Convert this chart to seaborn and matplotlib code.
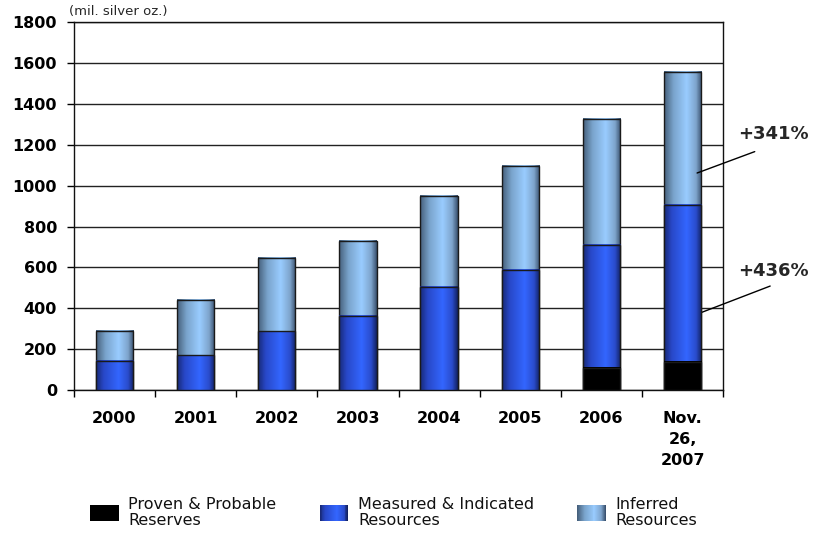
import numpy as np
import pandas as pd
import seaborn as sns
import matplotlib
matplotlib.use("Agg")
import matplotlib.pyplot as plt
from matplotlib.colors import to_rgb
from matplotlib.patches import Rectangle, Patch
from matplotlib.legend_handler import HandlerBase

# Silver reserves & resources by year (mil. silver oz.)
years = ["2000", "2001", "2002", "2003", "2004", "2005", "2006", "Nov.\n26,\n2007"]
proven = [0, 0, 0, 0, 0, 0, 108, 137]
measured = [143, 170, 287, 362, 505, 587, 602, 768]
inferred = [147, 272, 359, 367, 445, 509, 615, 651]
labels = ["Proven & Probable\nReserves", "Measured & Indicated\nResources", "Inferred\nResources"]

df = pd.DataFrame({"year": years, "proven": proven, "measured": measured, "inferred": inferred})
df["lvl1"] = df["proven"]
df["lvl2"] = df["lvl1"] + df["measured"]
df["lvl3"] = df["lvl2"] + df["inferred"]

# gradient stops (position, colour) -> cylinder look
black_stops = [(0, "#000000"), (1, "#000000")]
blue_stops = [(0, "#182a78"), (0.2, "#2848c8"), (0.6, "#3366ff"), (0.85, "#2a4ccc"), (1, "#122262")]
light_stops = [(0, "#46607c"), (0.25, "#7aa4cc"), (0.6, "#99ccff"), (0.85, "#7ea4cc"), (1, "#3a5270")]


def grad_colors(stops, n):
    pos = [s[0] for s in stops]
    rgb = np.array([to_rgb(s[1]) for s in stops])
    t = np.linspace(0, 1, n)
    return np.stack([np.interp(t, pos, rgb[:, k]) for k in range(3)], axis=1)


class GradHandler(HandlerBase):
    def __init__(self, stops):
        super().__init__()
        self.stops = stops

    def create_artists(self, legend, orig_handle, xdescent, ydescent, width, height, fontsize, trans):
        n = 30
        cols = grad_colors(self.stops, n)
        arts = []
        for i in range(n):
            arts.append(Rectangle((-xdescent + width * i / n, -ydescent), width / n * 1.1, height,
                                  facecolor=cols[i], edgecolor="none", transform=trans))
        return arts


fig, ax = plt.subplots(figsize=(8.2, 5.36), dpi=100)
fig.subplots_adjust(left=0.09, right=0.882, bottom=0.272, top=0.959)
sns.set_style("white")

layers = [("lvl3", light_stops), ("lvl2", blue_stops), ("lvl1", black_stops)]
for k, (col, stops) in enumerate(layers):
    n_before = len(ax.patches)
    sns.barplot(data=df, x="year", y=col, order=years, color=stops[2 if len(stops) > 2 else 0][1],
                width=0.46, saturation=1, errorbar=None, ax=ax)
    z = 2 + k
    img = grad_colors(stops, 64)[None, :, :]
    for p in ax.patches[n_before:]:
        x0, y0, w, h = p.get_x(), p.get_y(), p.get_width(), p.get_height()
        if h <= 0:
            p.set_visible(False)
            continue
        ax.imshow(img, extent=(x0, x0 + w, y0, y0 + h), aspect="auto",
                  interpolation="bilinear", zorder=z + 0.1)
        p.set_facecolor("none")
        p.set_edgecolor("#1a1a1a")
        p.set_linewidth(1.0)
        p.set_zorder(z + 0.2)

ax.set_xlim(-0.5, 7.5)
ax.set_ylim(0, 1800)
ax.set_yticks(np.arange(0, 1801, 200))
ax.set_xticks(np.arange(-0.5, 8, 1), minor=True)
ax.set_xlabel("")
ax.set_ylabel("")
ax.yaxis.grid(True, color="#222222", linewidth=1.0)
ax.set_axisbelow(True)
for s in ax.spines.values():
    s.set_visible(True)
    s.set_color("#111111")
    s.set_linewidth(1.0)

ax.tick_params(axis="y", which="major", length=5, width=1, direction="out", pad=7, labelsize=11.5, left=True)
ax.tick_params(axis="x", which="major", length=0, pad=15, labelsize=11.5)
ax.tick_params(axis="x", which="minor", length=5, width=1, direction="out", bottom=True)
for lab in ax.get_yticklabels() + ax.get_xticklabels():
    lab.set_fontweight("bold")
for lab in ax.get_xticklabels():
    lab.set_linespacing(1.5)
    lab.set_verticalalignment("top")

fig.text(69 / 820, 1 - 12 / 536, "(mil. silver oz.)", fontsize=9.5, va="center", ha="left")

# growth callouts on the latest bar
ax.annotate("", xy=(7.146, 1057), xytext=(7.92, 1171),
            arrowprops=dict(arrowstyle="-", color="black", lw=1), annotation_clip=False)
ax.annotate("", xy=(7.146, 367), xytext=(8.11, 514),
            arrowprops=dict(arrowstyle="-", color="black", lw=1), annotation_clip=False)
ax.text(7.68, 1250, "+341%", fontsize=13, fontweight="bold", va="center", ha="left", clip_on=False)
ax.text(7.68, 583, "+436%", fontsize=13, fontweight="bold", va="center", ha="left", clip_on=False)

h_black = Patch(label=labels[0])
h_blue = Patch(label=labels[1])
h_light = Patch(label=labels[2])
leg = fig.legend(handles=[h_black, h_blue, h_light], labels=labels, ncol=3,
                 handler_map={h_black: GradHandler(black_stops), h_blue: GradHandler(blue_stops),
                              h_light: GradHandler(light_stops)},
                 loc="upper left", bbox_to_anchor=(90 / 820, 1 - 497 / 536), bbox_transform=fig.transFigure,
                 frameon=False, fontsize=11.5, handlelength=1.8, handleheight=1.2, handletextpad=0.6,
                 columnspacing=2.7, borderpad=0, borderaxespad=0)
for t in leg.get_texts():
    t.set_linespacing(1.1)
    t.set_color("#111111")

fig.savefig("out.png", dpi=100)
